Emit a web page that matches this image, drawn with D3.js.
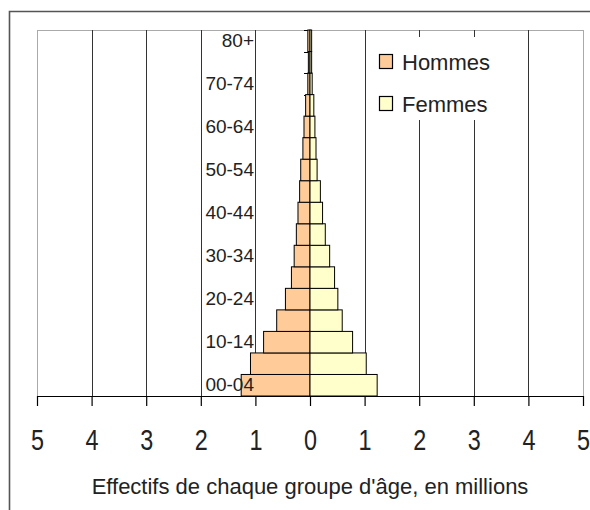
<!DOCTYPE html>
<html>
<head>
<meta charset="utf-8">
<script src="https://cdn.jsdelivr.net/npm/d3@7"></script>
<style>
  html, body { margin: 0; padding: 0; background: #fff; }
  svg { display: block; font-family: "Liberation Sans", Arial, sans-serif; }
</style>
</head>
<body>
<svg id="chart" width="590" height="510"></svg>
<script>
// Age groups, bottom to top
const ageGroups = ["00-04","05-09","10-14","15-19","20-24","25-29","30-34","35-39","40-44",
                   "45-49","50-54","55-59","60-64","65-69","70-74","75-79","80+"];
const hommes = [1.26, 1.09, 0.85, 0.61, 0.45, 0.34, 0.29, 0.25, 0.22,
                0.19, 0.17, 0.13, 0.11, 0.08, 0.04, 0.03, 0.04];
const femmes = [1.23, 1.03, 0.78, 0.59, 0.51, 0.45, 0.36, 0.28, 0.23,
                0.19, 0.13, 0.11, 0.09, 0.07, 0.04, 0.03, 0.03];
const labeledGroups = ["00-04","10-14","20-24","30-34","40-44","50-54","60-64","70-74","80+"];
const xTicks = [-5,-4,-3,-2,-1,0,1,2,3,4,5];
const seriesNames = ["Hommes","Femmes"];
const seriesColors = ["#FFCC99","#FFFFCC"];
const xTitle = "Effectifs de chaque groupe d'âge, en millions";

const svg = d3.select("#chart");

const plot = {left: 37, right: 583, top: 30, bottom: 396};
const x = d3.scaleLinear().domain([-5, 5]).range([plot.left, plot.right]);
const y = d3.scaleBand().domain(ageGroups.slice().reverse()).range([plot.top, plot.bottom]).padding(0);

// outer frame
svg.append("path")
  .attr("d", `M9.5,510 V11.5 H590`)
  .attr("fill", "none").attr("stroke", "#555").attr("stroke-width", 1.6);

// plot border
svg.append("rect")
  .attr("x", plot.left + 0.5).attr("y", plot.top + 0.5)
  .attr("width", plot.right - plot.left).attr("height", plot.bottom - plot.top)
  .attr("fill", "none").attr("stroke", "#aaa").attr("stroke-width", 1);

// vertical gridlines
svg.append("g").selectAll("line")
  .data(xTicks.filter(d => d !== -5 && d !== 5))
  .join("line")
  .attr("x1", d => Math.round(x(d)) + 0.5).attr("x2", d => Math.round(x(d)) + 0.5)
  .attr("y1", plot.top).attr("y2", plot.bottom)
  .attr("stroke", "#333").attr("stroke-width", 1);

// y-axis tick marks at band boundaries (under bars)
const boundaries = ageGroups.map(g => y(g)).concat([plot.bottom]);
svg.append("g").selectAll("line")
  .data(boundaries)
  .join("line")
  .attr("x1", x(0) - 6).attr("x2", x(0))
  .attr("y1", d => Math.round(d) + 0.5).attr("y2", d => Math.round(d) + 0.5)
  .attr("stroke", "#000").attr("stroke-width", 1);

// bars
const bars = svg.append("g");
bars.selectAll("rect.h")
  .data(ageGroups)
  .join("rect").attr("class", "h")
  .attr("x", (d, i) => x(-hommes[i]))
  .attr("width", (d, i) => x(0) - x(-hommes[i]))
  .attr("y", d => y(d))
  .attr("height", y.bandwidth())
  .attr("fill", seriesColors[0]).attr("stroke", "#000").attr("stroke-width", 1);
bars.selectAll("rect.f")
  .data(ageGroups)
  .join("rect").attr("class", "f")
  .attr("x", x(0))
  .attr("width", (d, i) => x(femmes[i]) - x(0))
  .attr("y", d => y(d))
  .attr("height", y.bandwidth())
  .attr("fill", seriesColors[1]).attr("stroke", "#000").attr("stroke-width", 1);

// x axis
const xAxis = d3.axisBottom(x).tickValues(xTicks).tickSize(10).tickSizeOuter(0)
  .tickFormat(d => Math.abs(d));
const gx = svg.append("g").attr("transform", `translate(0,${plot.bottom})`).call(xAxis);
gx.select(".domain").attr("stroke", "#000").attr("stroke-width", 1.2);
gx.selectAll(".tick line").attr("stroke", "#000").attr("stroke-width", 1.2);
gx.selectAll(".tick text")
  .attr("y", 54).attr("dy", 0)
  .attr("font-size", 30)
  .attr("fill", "#222")
  .attr("transform", "scale(0.78,1)")
  .attr("font-family", "'Liberation Sans', Arial, sans-serif");

// age labels
svg.append("g").selectAll("text")
  .data(labeledGroups)
  .join("text")
  .attr("x", 254)
  .attr("y", d => y(d) + y.bandwidth() / 2 + 6)
  .attr("text-anchor", "end")
  .attr("font-size", 19)
  .attr("fill", "#222")
  .text(d => d);

// legend
const lg = svg.append("g");
lg.append("rect").attr("x", 367).attr("y", 37).attr("width", 150).attr("height", 83).attr("fill", "#fff");
seriesNames.forEach((name, i) => {
  const yy = 54 + i * 42;
  lg.append("rect").attr("x", 379.5).attr("y", yy + 0.5).attr("width", 13).attr("height", 14)
    .attr("fill", seriesColors[i]).attr("stroke", "#000").attr("stroke-width", 1.2);
  lg.append("text").attr("x", 402).attr("y", yy + 15.5)
    .attr("font-size", 22).attr("fill", "#222").text(name);
});

// x title
svg.append("text")
  .attr("x", 310).attr("y", 494)
  .attr("text-anchor", "middle")
  .attr("font-size", 22)
  .attr("fill", "#222")
  .text(xTitle);
</script>
</body>
</html>
